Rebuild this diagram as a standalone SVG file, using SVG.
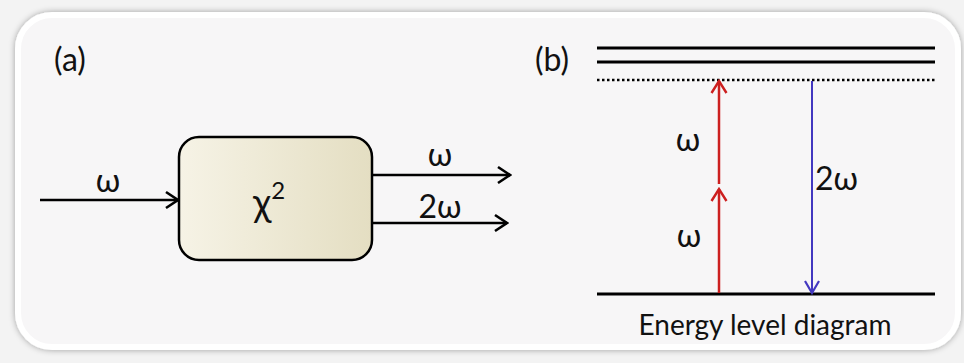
<svg xmlns="http://www.w3.org/2000/svg" width="964" height="363" viewBox="0 0 964 363">
  <defs>
    <linearGradient id="boxfill" x1="0" y1="0" x2="1" y2="0">
      <stop offset="0" stop-color="#f6f3e6"/>
      <stop offset="1" stop-color="#e4dec2"/>
    </linearGradient>
    <filter id="shadow" x="-5%" y="-10%" width="110%" height="120%">
      <feDropShadow dx="0" dy="0" stdDeviation="3" flood-color="#000" flood-opacity="0.35"/>
    </filter>
    <marker id="openK" viewBox="0 0 16 20" refX="14" refY="10" markerWidth="16" markerHeight="20" markerUnits="userSpaceOnUse" orient="auto">
      <path d="M2,2 L14,10 L2,18" fill="none" stroke="#000" stroke-width="2.6"/>
    </marker>
    <marker id="openR" viewBox="0 0 16 20" refX="14" refY="10" markerWidth="16" markerHeight="20" markerUnits="userSpaceOnUse" orient="auto">
      <path d="M2,2.5 L14,10 L2,17.5" fill="none" stroke="#cc1f1f" stroke-width="2.4"/>
    </marker>
    <marker id="openB" viewBox="0 0 16 20" refX="14" refY="10" markerWidth="16" markerHeight="20" markerUnits="userSpaceOnUse" orient="auto">
      <path d="M2,3 L14,10 L2,17" fill="none" stroke="#4338c0" stroke-width="2.2"/>
    </marker>
  </defs>
  <style>
    text { font-family: Lato, "Open Sans", "Liberation Sans", sans-serif; fill: #111; }
    .lbl { font-size: 32px; }
    .k { stroke: #000; fill: none; }
  </style>
  <rect x="0" y="0" width="964" height="363" fill="#f3f3f3"/>
  <g id="frame">
    <rect x="18" y="15" width="940" height="332" rx="34" fill="#f7f6f7" stroke="#ffffff" stroke-width="6" filter="url(#shadow)"/>
  </g>

  <!-- Panel (a) -->
  <text id="label-a" class="lbl" x="54" y="71">(a)</text>
  <g id="chi2-box">
    <rect x="179" y="137" width="193" height="123" rx="20" fill="url(#boxfill)" stroke="#000" stroke-width="2.5"/>
    <text x="253" y="216" font-size="38">χ<tspan font-size="24" dy="-17">2</tspan></text>
  </g>
  <g id="connectors-a">
    <line class="k" x1="40" y1="200" x2="178" y2="200" stroke-width="2.5" marker-end="url(#openK)"/>
    <line class="k" x1="373" y1="175" x2="510" y2="175" stroke-width="2.5" marker-end="url(#openK)"/>
    <line class="k" x1="373" y1="223" x2="507" y2="223" stroke-width="2.5" marker-end="url(#openK)"/>
    <text class="lbl" x="108" y="192" text-anchor="middle">ω</text>
    <text class="lbl" x="440" y="166" text-anchor="middle">ω</text>
    <text class="lbl" x="440" y="218" text-anchor="middle">2ω</text>
  </g>

  <!-- Panel (b) -->
  <text id="label-b" class="lbl" x="535" y="71">(b)</text>
  <g id="levels">
    <line class="k" x1="597" y1="48" x2="935" y2="48" stroke-width="3"/>
    <line class="k" x1="597" y1="62" x2="935" y2="62" stroke-width="3"/>
    <line class="k" x1="597" y1="80" x2="936" y2="80" stroke-width="2.5" stroke-dasharray="2.5,2.5"/>
    <line class="k" x1="597" y1="294" x2="935" y2="294" stroke-width="3"/>
  </g>
  <g id="connectors-b">
    <line x1="719" y1="293" x2="719" y2="189" stroke="#cc1f1f" stroke-width="2.5" marker-end="url(#openR)"/>
    <line x1="719" y1="184" x2="719" y2="81" stroke="#cc1f1f" stroke-width="2.5" marker-end="url(#openR)"/>
    <line x1="812" y1="81" x2="812" y2="293" stroke="#4338c0" stroke-width="2" marker-end="url(#openB)"/>
    <text class="lbl" x="688" y="151" text-anchor="middle">ω</text>
    <text class="lbl" x="689" y="247" text-anchor="middle">ω</text>
    <text class="lbl" x="815" y="190">2ω</text>
  </g>
  <text id="caption" x="765" y="335" font-size="28" text-anchor="middle">Energy level diagram</text>
</svg>
